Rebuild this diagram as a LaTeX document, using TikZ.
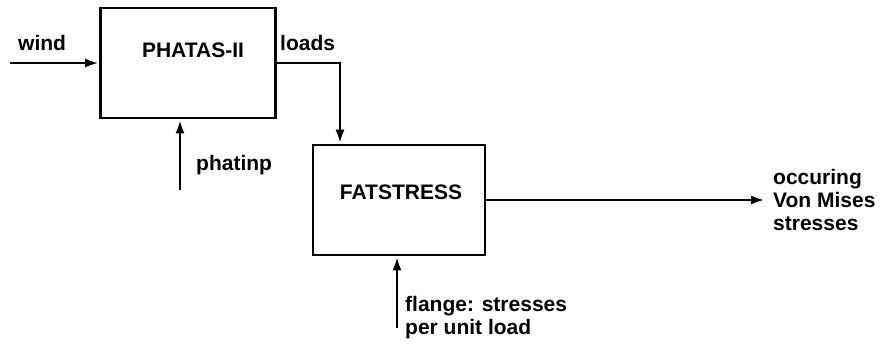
\documentclass[tikz,border=0pt]{standalone}
\usepackage{fontspec}
\setmainfont{Liberation Sans}
\usetikzlibrary{arrows.meta,positioning}
\tikzset{
    >={Latex[length=14pt,width=9pt]},
    every picture/.style={font=\fontsize{21}{23}\selectfont\bfseries},
    block/.style={draw, line width=2.8pt, minimum width=175pt, minimum height=110pt, inner sep=0pt},
    arrow/.style={->, line width=2.8pt},
    lbl/.style={inner sep=0pt, align=left}
}
\begin{document}
\begin{tikzpicture}[x=1pt,y=-1pt]
\useasboundingbox (0,0) rectangle (890,349);
\node[block] (phatas) at (188,63) {};
\node[lbl] (phatasname) at (193,50) {PHATAS-II};
\node[block, minimum width=172pt] (fat) at (399,200) {};
\node[lbl] (fatname) at (401,192) {FATSTRESS};
\coordinate (windin) at (10,63);
\draw[arrow] (windin) -- (phatas.west);
\node[lbl, anchor=base west] (wind) at (18,50) {wind};
\coordinate (loadsdown) at (340,63);
\draw[arrow] (phatas.east) -- (loadsdown) -- (loadsdown |- fat.north);
\node[lbl, anchor=base west] (loads) at (280,50) {loads};
\coordinate (phatinpin) at (180,190);
\draw[arrow] (phatinpin) -- (phatinpin |- phatas.south);
\node[lbl, anchor=base west] (phatinp) at (196,170) {phatinp};
\coordinate (flangein) at (397,328);
\draw[arrow] (flangein) -- (flangein |- fat.south);
\node[lbl, anchor=north west] (flange) at (405,296) {flange: stresses\\per unit load};
\node[lbl, anchor=west, inner xsep=8pt] (out) at (765,200) {occuring\\Von Mises\\stresses};
\draw[arrow] (fat.east) -- (out.west);
\end{tikzpicture}
\end{document}
